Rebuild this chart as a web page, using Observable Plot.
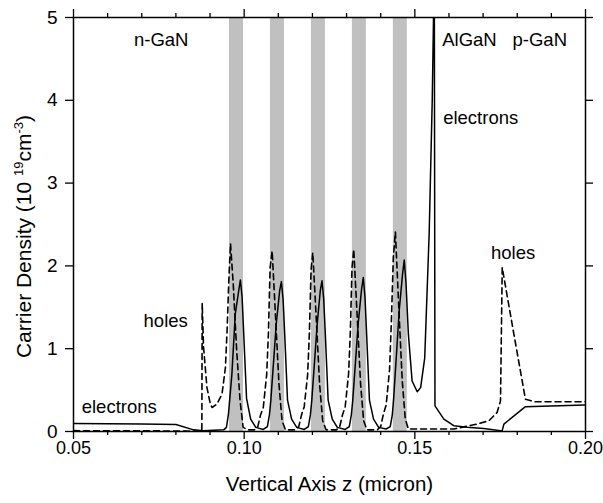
<!DOCTYPE html>
<html><head><meta charset="utf-8">
<script src="https://cdn.jsdelivr.net/npm/d3@7"></script>
<script src="https://cdn.jsdelivr.net/npm/@observablehq/plot@0.6"></script>
<style>body{margin:0;background:#fff;}</style>
</head><body><div id="chart"></div>
<script>
// Electron density (solid), z in micron, n in 10^19 cm^-3
const electronZ = [0.0500,0.0600,0.0700,0.0800,0.0852,0.0880,0.0940,0.0948,0.0954,0.0964,0.0974,0.0984,0.0989,0.0994,0.0999,0.1007,0.1019,0.1034,0.1056,
  0.1068,0.1074,0.1078,0.1088,0.1094,0.1104,0.1109,0.1114,0.1119,0.1127,0.1139,0.1154,0.1176,
  0.1188,0.1194,0.1198,0.1208,0.1214,0.1223,0.1228,0.1233,0.1238,0.1246,0.1258,0.1273,0.1296,
  0.1308,0.1314,0.1318,0.1328,0.1334,0.1344,0.1349,0.1354,0.1359,0.1367,0.1379,0.1394,0.1416,
  0.1428,0.1434,0.1438,0.1448,0.1454,0.1464,0.1469,0.1474,0.1481,0.1492,0.1507,0.1517,0.1529,0.1542,0.1551,0.1557,0.1559,
  0.1585,0.1614,0.1653,0.1702,0.1751,0.1756,0.1761,0.1824,0.2000];
const electronN = [0.097,0.093,0.090,0.085,0.020,0.010,0.020,0.05,0.21,0.69,1.42,1.70,1.83,1.62,1.15,0.40,0.15,0.05,0.025,
  0.06,0.20,0.37,0.95,1.30,1.70,1.81,1.60,1.15,0.38,0.15,0.05,0.025,
  0.06,0.20,0.37,0.95,1.30,1.70,1.82,1.60,1.15,0.38,0.15,0.05,0.025,
  0.06,0.20,0.37,0.95,1.30,1.72,1.86,1.62,1.15,0.38,0.15,0.05,0.03,
  0.06,0.20,0.40,1.05,1.45,1.90,2.07,1.80,1.18,0.61,0.48,0.53,0.89,2.39,4.00,5.60,0.31,
  0.15,0.07,0.05,0.036,0.01,0.01,0.09,0.30,0.32];
// Hole density (dashed)
const holeZ = [0.0500,0.0650,0.0800,0.0876,0.0877,0.0881,0.0891,0.0901,0.0906,0.0920,0.0935,0.0945,0.0950,0.0955,0.0960,0.0968,0.0978,0.0988,0.0997,
  0.1010,0.1030,0.1040,0.1048,0.1056,0.1066,0.1071,0.1076,0.1082,0.1092,0.1102,0.1111,0.1121,
  0.1150,0.1160,0.1168,0.1176,0.1186,0.1191,0.1196,0.1201,0.1211,0.1221,0.1230,0.1240,
  0.1270,0.1280,0.1288,0.1296,0.1306,0.1311,0.1316,0.1321,0.1331,0.1341,0.1350,0.1360,
  0.1390,0.1400,0.1408,0.1416,0.1426,0.1431,0.1437,0.1443,0.1453,0.1463,0.1472,0.1481,
  0.1520,0.1614,0.1683,0.1717,0.1741,0.1751,0.1756,0.1790,0.1824,0.1850,0.2000];
const holeN = [0.010,0.009,0.006,0.005,1.55,1.02,0.53,0.33,0.29,0.33,0.45,0.77,1.22,1.82,2.27,1.78,0.98,0.37,0.05,
  0.02,0.02,0.06,0.20,0.29,0.69,1.18,1.98,2.18,1.38,0.57,0.13,0.02,
  0.02,0.06,0.20,0.30,0.69,1.18,1.95,2.16,1.38,0.57,0.13,0.02,
  0.02,0.06,0.20,0.30,0.70,1.20,1.98,2.20,1.40,0.58,0.13,0.02,
  0.02,0.06,0.21,0.32,0.75,1.30,2.10,2.41,1.50,0.62,0.15,0.03,
  0.03,0.03,0.09,0.13,0.23,0.37,1.98,1.18,0.39,0.36,0.36];
// Quantum wells (gray bands)
const wellStart = [0.0957,0.1077,0.1197,0.1317,0.1437];
const wellEnd   = [0.0998,0.1118,0.1238,0.1358,0.1478];
// Ticks
const xMajorTicks = [0.05,0.10,0.15,0.20];
const xMinorTicks = [0.06,0.07,0.08,0.09,0.11,0.12,0.13,0.14,0.16,0.17,0.18,0.19];
const yTicks = [0,1,2,3,4,5];
// Annotations
const labelText = ["n-GaN","AlGaN","p-GaN","electrons","holes","holes","electrons"];
const labelZ = [0.0757,0.1660,0.1866,0.1693,0.1788,0.0770,0.0634];
const labelN = [4.73,4.73,4.73,3.78,2.15,1.33,0.30];
const xTitle = "Vertical Axis z (micron)";
const yTitle = "Carrier Density (10 19cm-3)";
const yTitleParts = [["Carrier Density (10 ", false],["19", true],["cm", false],["-3", true],[")", false]];

const electrons = electronZ.map((z,i)=>({z, n: electronN[i]}));
const holes = holeZ.map((z,i)=>({z, n: holeN[i]}));
const wells = wellStart.map((s,i)=>({s, e: wellEnd[i]}));
const labels = labelText.map((t,i)=>({t, z: labelZ[i], n: labelN[i]}));

const font = "'Liberation Sans', Arial, Helvetica, sans-serif";
const chart = Plot.plot({
  width: 603, height: 503,
  marginLeft: 73, marginRight: 18, marginTop: 17, marginBottom: 72,
  x: {domain: [0.05, 0.20]},
  y: {domain: [0, 5]},
  style: {fontFamily: font, fontSize: "19px", color: "black", background: "white", overflow: "visible"},
  marks: [
    Plot.rect(wells, {x1: "s", x2: "e", y1: 0, y2: 5, fill: "#c0c0c0"}),
    Plot.line(holes, {x: "z", y: "n", stroke: "black", strokeWidth: 1.6, strokeDasharray: "6,4", clip: true}),
    Plot.line(electrons, {x: "z", y: "n", stroke: "black", strokeWidth: 1.5, clip: true}),
    Plot.frame({stroke: "black", strokeWidth: 1.5}),
    Plot.axisX(xMajorTicks, {anchor: "bottom", tickSize: 8, tickPadding: 2, tickFormat: d3.format(".2f"), label: null, fontSize: 18, strokeWidth: 1.3}),
    Plot.axisX(xMinorTicks, {anchor: "bottom", tickSize: 4, tickFormat: () => "", label: null, strokeWidth: 1.3}),
    Plot.axisX(xMajorTicks, {anchor: "top", tickSize: 9, tickFormat: () => "", label: null, strokeWidth: 1.3}),
    Plot.axisX(xMinorTicks, {anchor: "top", tickSize: 5, tickFormat: () => "", label: null, strokeWidth: 1.3}),
    Plot.axisY(yTicks, {anchor: "left", tickSize: 8, tickPadding: 8, tickFormat: d3.format("d"), label: null, fontSize: 19, strokeWidth: 1.3}),
    Plot.axisY(yTicks, {anchor: "right", tickSize: 7, tickFormat: () => "", label: null, strokeWidth: 1.3}),
    Plot.text(labels, {x: "z", y: "n", text: "t", fontSize: 18.5}),
    Plot.text([xTitle], {frameAnchor: "bottom", dy: 53, fontSize: 20.5, textAnchor: "middle", lineAnchor: "middle"}),
    Plot.text([yTitle], {frameAnchor: "left", dx: -49, dy: 12, rotate: -90, fontSize: 21, textAnchor: "middle", lineAnchor: "middle"})
  ]
});
document.getElementById("chart").appendChild(chart);

// Superscripts in the y title
for (const t of chart.querySelectorAll("text")) {
  if (t.textContent === yTitle) {
    t.textContent = "";
    const ns = "http://www.w3.org/2000/svg";
    let raised = false;
    for (const [s, sup] of yTitleParts) {
      const sp = document.createElementNS(ns, "tspan");
      sp.textContent = s;
      if (sup && !raised) { sp.setAttribute("dy", "-8"); sp.setAttribute("font-size", "13"); raised = true; }
      else if (sup) { sp.setAttribute("font-size", "13"); }
      else if (raised) { sp.setAttribute("dy", "8"); raised = false; }
      t.appendChild(sp);
    }
  }
}
</script>
</body></html>
